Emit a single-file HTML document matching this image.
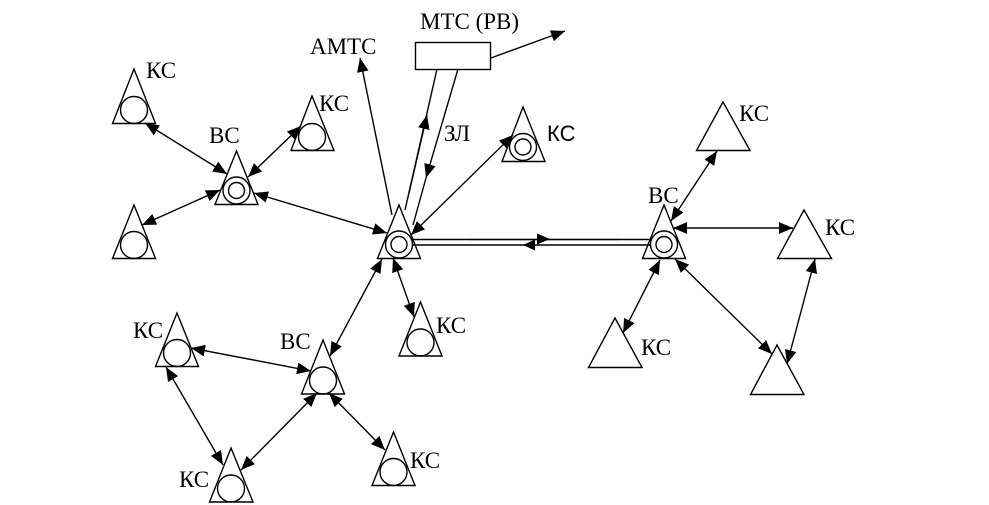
<!DOCTYPE html>
<html>
<head>
<meta charset="utf-8">
<style>
html,body{margin:0;padding:0;background:#fff;}
svg{display:block;}
text{font-family:"Liberation Serif","Noto Serif CJK SC",serif;font-size:23px;fill:#000;}
.s{font-family:"Liberation Sans","Noto Sans CJK SC",sans-serif;font-size:22px;}
.t{fill:#fff;stroke:#000;stroke-width:1.4;}
.c{fill:none;stroke:#000;stroke-width:1.4;}
.l{fill:none;stroke:#000;stroke-width:1.4;}
.a{marker-end:url(#ah);}
.b{marker-start:url(#as);marker-end:url(#ah);}
</style>
</head>
<body>
<svg width="989" height="505" viewBox="0 0 989 505" xmlns="http://www.w3.org/2000/svg">
<defs>
<marker id="ah" markerUnits="userSpaceOnUse" markerWidth="14" markerHeight="12" refX="12" refY="5" orient="auto" viewBox="0 0 12 10"><path d="M0 0L12 5L0 10Z" fill="#000"/></marker>
<marker id="as" markerUnits="userSpaceOnUse" markerWidth="14" markerHeight="12" refX="0" refY="5" orient="auto" viewBox="0 0 12 10"><path d="M12 0L0 5L12 10Z" fill="#000"/></marker>
</defs>
<rect width="989" height="505" fill="#fff"/>

<!-- triangles -->
<polygon class="t" points="134,69 112.500,123.500 155.500,123.500"/><circle class="c" cx="134" cy="110" r="13.500"/>
<polygon class="t" points="312,96 291,150.500 334,150.500"/><circle class="c" cx="312" cy="137" r="13.500"/>
<polygon class="t" points="236.500,151 215,204.500 258,204.500"/><circle class="c" cx="236.500" cy="190.500" r="13.500"/><circle class="c" cx="236.500" cy="190.500" r="8"/>
<polygon class="t" points="134,205 112.500,258.500 155.500,258.500"/><circle class="c" cx="134" cy="245" r="13.500"/>
<polygon class="t" points="399,205 377.500,258.500 420.500,258.500"/><circle class="c" cx="399" cy="244.500" r="13.500"/><circle class="c" cx="399" cy="244.500" r="8"/>
<polygon class="t" points="523,107 502,161.500 545,161.500"/><circle class="c" cx="523" cy="147" r="13.500"/><circle class="c" cx="523" cy="147" r="8"/>
<polygon class="t" points="664,205 642.500,258.500 685.500,258.500"/><circle class="c" cx="664" cy="244.500" r="13.500"/><circle class="c" cx="664" cy="244.500" r="8"/>
<polygon class="t" points="723,102 696.500,150.500 750,150.500"/>
<polygon class="t" points="804,210 777.500,258.500 831.500,258.500"/>
<polygon class="t" points="615,318 588.500,367.500 642,367.500"/>
<polygon class="t" points="777,345 750.500,394.500 804,394.500"/>
<polygon class="t" points="177,313 155.500,366.500 198.500,366.500"/><circle class="c" cx="177" cy="353" r="13.500"/>
<polygon class="t" points="323,340 301.500,394 344.500,394"/><circle class="c" cx="323" cy="380.500" r="13.500"/>
<polygon class="t" points="420.500,302 399,356 442,356"/><circle class="c" cx="420.500" cy="342.500" r="13.500"/>
<polygon class="t" points="231,448 209.500,502 253,502"/><circle class="c" cx="231" cy="488.500" r="13.500"/>
<polygon class="t" points="393.500,432 372,485.500 415,485.500"/><circle class="c" cx="393.500" cy="472" r="13.500"/>
<rect x="415.500" y="42.500" width="75" height="27" fill="#fff" stroke="#000" stroke-width="1.400"/>

<!-- connectors -->
<line class="l b" x1="145" y1="123" x2="227" y2="174"/>
<line class="l b" x1="301" y1="126" x2="248" y2="177"/>
<line class="l b" x1="142" y1="225" x2="220" y2="190"/>
<line class="l b" x1="254" y1="193" x2="387" y2="233"/>
<line class="l a" x1="392" y1="215" x2="360" y2="58"/>
<line class="l a" x1="491" y1="58" x2="565" y2="31"/>
<line class="l" x1="437" y1="69" x2="405" y2="210"/>
<line class="l a" x1="409" y1="193" x2="427" y2="115"/>
<line class="l a" x1="458" y1="69" x2="426" y2="178"/>
<line class="l" x1="426" y1="178" x2="413" y2="225"/>
<line class="l b" x1="411" y1="235" x2="513" y2="135"/>
<line class="l" x1="413" y1="239.500" x2="650" y2="239.500"/>
<line class="l" x1="413" y1="245" x2="650" y2="245"/>
<line class="l" x1="468" y1="239.500" x2="620" y2="239.500" stroke-opacity=".5"/>
<polygon points="550,239 537,233.500 537,244.500" fill="#000"/>
<polygon points="523,245 535,239.500 535,250.500" fill="#000"/>
<line class="l b" x1="382" y1="259" x2="330" y2="356"/>
<line class="l b" x1="393" y1="258" x2="414" y2="317"/>
<line class="l b" x1="191" y1="348" x2="311" y2="371"/>
<line class="l b" x1="166" y1="367" x2="223" y2="465"/>
<line class="l b" x1="241" y1="470" x2="317" y2="393"/>
<line class="l b" x1="329" y1="393" x2="385" y2="450"/>
<line class="l b" x1="717" y1="151" x2="671" y2="221"/>
<line class="l b" x1="673" y1="228" x2="793" y2="228"/>
<line class="l b" x1="660" y1="260" x2="623" y2="333"/>
<line class="l b" x1="675" y1="259" x2="772" y2="354"/>
<line class="l b" x1="815" y1="259" x2="787" y2="364"/>

<!-- labels -->
<text x="146" y="78">КС</text>
<text x="319" y="111">КС</text>
<text x="209" y="143">ВС</text>
<text x="310" y="54">АМТС</text>
<text x="420" y="29">МТС (РВ)</text>
<text x="444" y="141">ЗЛ</text>
<text class="s" x="547" y="141">КС</text>
<text x="739" y="121">КС</text>
<text x="648" y="203">ВС</text>
<text x="825" y="235">КС</text>
<text x="641" y="355">КС</text>
<text x="436" y="333">КС</text>
<text x="280" y="349">ВС</text>
<text x="133" y="338">КС</text>
<text x="179" y="487">КС</text>
<text x="410" y="468">КС</text>
</svg>
</body>
</html>
